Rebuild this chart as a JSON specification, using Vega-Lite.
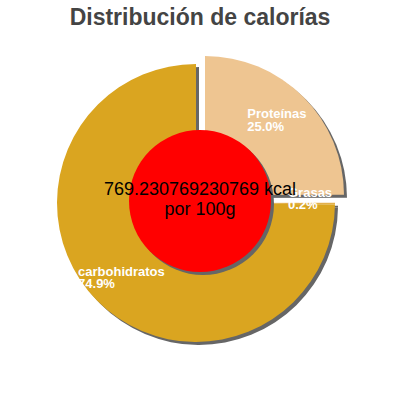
{
  "$schema": "https://vega.github.io/schema/vega-lite/v6.json",
  "autosize": "none",
  "width": 392,
  "height": 326,
  "padding": {"left": 0, "top": 40, "right": 8, "bottom": 34},
  "background": "white",
  "title": {
    "text": "Distribución de calorías",
    "font": "Liberation Sans",
    "fontSize": 23,
    "fontWeight": "bold",
    "color": "#444444",
    "anchor": "middle",
    "frame": "group",
    "offset": 10,
    "dx": 4
  },
  "config": {"view": {"stroke": null}},
  "layer": [
    {
      "data": {
        "values": [
          {"cat": "Proteínas", "v": 25.0, "idx": 1, "label": "Proteínas\n25.0%"},
          {"cat": "Grasas", "v": 0.2, "idx": 2, "label": "Grasas\n0.2%"},
          {"cat": "carbohidratos", "v": 74.9, "idx": 3, "label": "carbohidratos\n74.9%"}
        ]
      },
      "encoding": {
        "theta": {"field": "v", "type": "quantitative", "stack": true},
        "order": {"field": "idx", "type": "quantitative"}
      },
      "layer": [
        {
          "mark": {"type": "arc", "outerRadius": 139, "fill": "#666666", "xOffset": 3, "yOffset": 3},
          "encoding": {
            "opacity": {"condition": {"test": "datum.idx != 1", "value": 1}, "value": 0}
          }
        },
        {
          "mark": {"type": "arc", "outerRadius": 139, "fill": "#666666", "xOffset": 12, "yOffset": -5},
          "encoding": {
            "opacity": {"condition": {"test": "datum.idx == 1", "value": 1}, "value": 0}
          }
        },
        {
          "mark": {"type": "arc", "outerRadius": 139},
          "encoding": {
            "color": {
              "field": "cat",
              "type": "nominal",
              "legend": null,
              "scale": {"domain": ["Proteínas", "Grasas", "carbohidratos"], "range": ["#EEC591", "#E3B04B", "#DAA520"]}
            },
            "opacity": {"condition": {"test": "datum.idx != 1", "value": 1}, "value": 0}
          }
        },
        {
          "mark": {"type": "arc", "outerRadius": 139, "xOffset": 9, "yOffset": -8},
          "encoding": {
            "color": {"field": "cat", "type": "nominal", "legend": null},
            "opacity": {"condition": {"test": "datum.idx == 1", "value": 1}, "value": 0}
          }
        },
        {
          "mark": {"type": "text", "radius": 115, "dx": -30, "dy": -4, "align": "left", "baseline": "alphabetic", "lineBreak": "\n", "lineHeight": 13, "font": "Liberation Sans", "fontSize": 13, "fontWeight": "bold", "fill": "white"},
          "encoding": {
            "text": {"field": "label"},
            "opacity": {"condition": {"test": "datum.idx == 1", "value": 1}, "value": 0}
          }
        },
        {
          "mark": {"type": "text", "radius": 92, "dx": 0, "dy": -6, "align": "left", "baseline": "alphabetic", "lineBreak": "\n", "lineHeight": 12, "font": "Liberation Sans", "fontSize": 13, "fontWeight": "bold", "fill": "white"},
          "encoding": {
            "text": {"field": "label"},
            "opacity": {"condition": {"test": "datum.idx == 2", "value": 1}, "value": 0}
          }
        },
        {
          "mark": {"type": "text", "radius": 104, "dx": -44, "dy": 0, "align": "left", "baseline": "alphabetic", "lineBreak": "\n", "lineHeight": 12, "font": "Liberation Sans", "fontSize": 13, "fontWeight": "bold", "fill": "white"},
          "encoding": {
            "text": {"field": "label"},
            "opacity": {"condition": {"test": "datum.idx == 3", "value": 1}, "value": 0}
          }
        }
      ]
    },
    {
      "data": {"values": [{"kcal": "769.230769230769 kcal\npor 100g"}]},
      "layer": [
        {
          "mark": {"type": "arc", "theta": 0, "theta2": 6.2832, "outerRadius": 71, "fill": "#666666", "xOffset": 7, "yOffset": 1},
          "encoding": {}
        },
        {
          "mark": {"type": "arc", "theta": 0, "theta2": 6.2832, "outerRadius": 71, "fill": "#FF0000", "xOffset": 4, "yOffset": -2},
          "encoding": {}
        },
        {
          "mark": {"type": "text", "align": "center", "baseline": "middle", "lineBreak": "\n", "lineHeight": 20, "font": "Liberation Sans", "fontSize": 18, "fill": "black", "dx": 4, "dy": -13},
          "encoding": {"text": {"field": "kcal"}}
        }
      ]
    }
  ]
}
